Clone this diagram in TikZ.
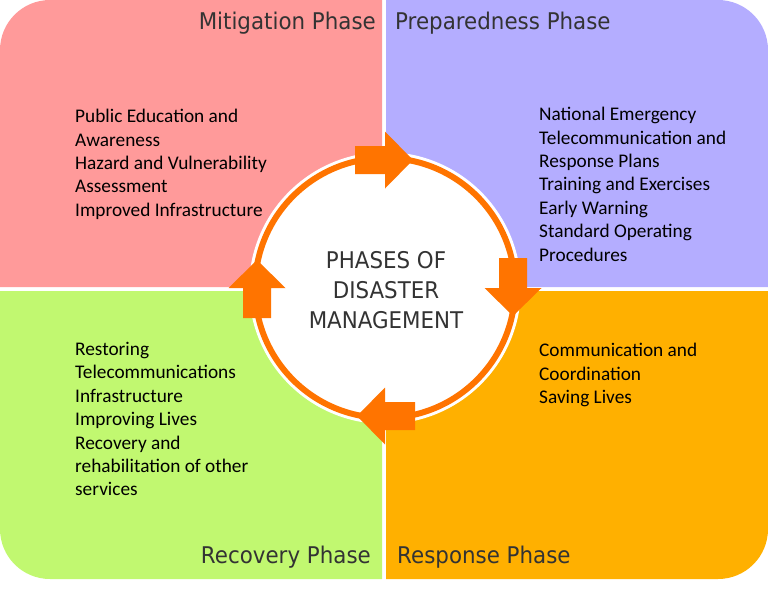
\documentclass[tikz,border=0pt]{standalone}
\usepackage{fontspec}
\usepackage{xcolor}
\usepackage{tikz}
\usetikzlibrary{positioning}
\setmainfont{Carlito}
\newfontfamily\phasefont[FakeStretch=0.93]{DejaVu Sans}

\definecolor{mitpink}{HTML}{FF9A9A}
\definecolor{preppurple}{HTML}{B4ADFF}
\definecolor{recgreen}{HTML}{C1F870}
\definecolor{resporange}{HTML}{FFB000}
\definecolor{ringorange}{HTML}{FF7400}
\definecolor{titlegray}{HTML}{333333}

\tikzstyle{phasetitle}=[inner sep=0pt, text=titlegray, font=\phasefont\fontsize{23}{28}\selectfont]
\tikzstyle{items}=[inner sep=0pt, anchor=north west, align=left, text=black,
        font=\fontsize{19.3}{23.4}\selectfont]
\tikzstyle{ringarrow}=[fill=ringorange, draw=none]

\begin{document}
\begin{tikzpicture}[x=1pt, y=-1pt]
        \useasboundingbox (0,0) rectangle (768,600);
        % quadrants
        \fill[mitpink] (382,287) -- (0,287) [rounded corners=50pt] -- (0,0) [sharp corners] -- (382,0) -- cycle;
        \fill[preppurple] (386,0) [rounded corners=50pt] -- (768,0) [sharp corners] -- (768,287) -- (386,287) -- cycle;
        \fill[recgreen] (382,291) -- (382,579) [rounded corners=50pt] -- (0,579) [sharp corners] -- (0,291) -- cycle;
        \fill[resporange] (386,291) -- (768,291) [rounded corners=50pt] -- (768,579) [sharp corners] -- (386,579) -- cycle;

        % phase titles
        \node (mitigation) [phasetitle, anchor=base east] at (376,29) {Mitigation Phase};
        \node (preparedness) [phasetitle, anchor=base west] at (395,29) {Preparedness Phase};
        \node (recovery) [phasetitle, anchor=base east] at (371,563) {Recovery Phase};
        \node (response) [phasetitle, anchor=base west] at (397,563) {Response Phase};

        % measures of each phase
        \node (mititems) [items] at (75,109) {Public Education and\\Awareness\\Hazard and Vulnerability\\Assessment\\Improved Infrastructure};
        \node (prepitems) [items] at (539,107) {National Emergency\\Telecommunication and\\Response Plans\\Training and Exercises\\Early Warning\\Standard Operating\\Procedures};
        \node (recitems) [items] at (75,342) {Restoring\\Telecommunications\\Infrastructure\\Improving Lives\\Recovery and\\rehabilitation of other\\services};
        \node (respitems) [items] at (539,343) {Communication and\\Coordination\\Saving Lives};

        % cycle
        \node (cycle) [circle, fill=white, minimum size=272pt, inner sep=0pt] at (385,288) {};
        \draw[ringorange, line width=6pt, fill=white] (cycle.center) circle (130pt);
        \foreach \px/\py/\rot in {385/160/0, 513/288/-90, 385/416/180, 257/288/90}
        {
          \fill[ringarrow, shift={(\px,\py)}, rotate=\rot]
            (-30,-14) -- (0,-14) -- (0,-28.5) -- (28,0) -- (0,28.5) -- (0,14) -- (-30,14) -- cycle;
        }
        \node (title) [align=center, text=titlegray, inner sep=0pt,
          font=\phasefont\fontsize{23}{30}\selectfont] at (386,290)
          {PHASES OF\\DISASTER\\MANAGEMENT};
\end{tikzpicture}
\end{document}
